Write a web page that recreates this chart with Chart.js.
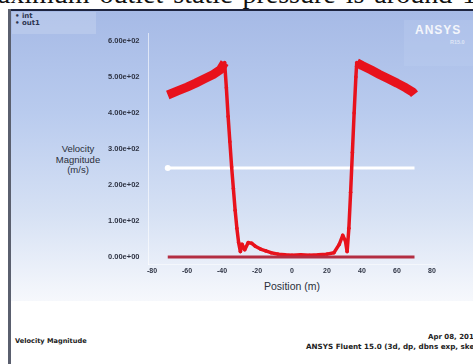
<!DOCTYPE html>
<html><head><meta charset="utf-8">
<script src="https://cdn.jsdelivr.net/npm/chart.js@4.4.1/dist/chart.umd.min.js"></script>
<style>
html,body{margin:0;padding:0;background:#fff;width:473px;height:364px;overflow:hidden;position:relative;font-family:"Liberation Sans",Arial,sans-serif;}
#cut{position:absolute;left:-24px;top:-20px;font-family:"Liberation Serif","Times New Roman",serif;font-size:28px;line-height:28px;white-space:nowrap;color:#111;word-spacing:3px;}
#topbar{position:absolute;left:8px;top:9px;width:465px;height:2px;background:#1d2440;}
#leftbar{position:absolute;left:8px;top:9px;width:3px;height:355px;background:#5a5f6e;}
#frame{position:absolute;left:11px;top:11px;width:462px;height:290px;background:linear-gradient(to bottom,#a6bae6 0%,#b9cbee 35%,#d6e1f4 70%,#eef2fa 92%,#f6f8fc 100%);}
#legend{position:absolute;left:12px;top:12px;width:84px;height:22px;background:rgba(200,212,240,0.45);}
.lg{position:absolute;left:15px;font-size:7px;line-height:7px;color:#2d3550;font-weight:bold;font-family:"DejaVu Sans",sans-serif;}
#logo{position:absolute;left:404px;top:20px;width:69px;height:46px;background:rgba(190,205,240,0.35);}
#ansys{position:absolute;left:415px;top:23px;font-size:12px;font-weight:bold;color:#f4f6fb;letter-spacing:1px;}
#rel{position:absolute;left:450px;top:39px;font-size:5.5px;color:#dfe6f6;font-weight:bold;}
#ytitle{position:absolute;left:48px;top:144px;width:60px;text-align:center;font-size:9.5px;line-height:10.5px;color:#2a2f3a;}
#xtitle{position:absolute;left:240px;top:280px;width:104px;text-align:center;font-size:10.5px;color:#2a2f3a;}
.ft{position:absolute;font-family:"DejaVu Sans",sans-serif;font-weight:bold;color:#222;white-space:nowrap;}
#foot1{left:15px;top:337px;font-size:6.6px;}
#foot2{left:428px;top:333px;font-size:7px;}
#foot3{left:306px;top:342px;font-size:7.2px;}
canvas{position:absolute;left:0;top:0;}
</style>
</head><body>
<div id="cut">maximum outlet static pressure is around 10</div>
<div id="frame"></div>
<div id="topbar"></div>
<div id="leftbar"></div>
<div id="legend"></div>
<div class="lg" style="top:13px">&#8226; int</div>
<div class="lg" style="top:20px">&#8226; out1</div>
<div id="logo"></div>
<div id="ansys">ANSYS</div>
<div id="rel">R15.0</div>
<div id="ytitle">Velocity<br>Magnitude<br>(m/s)</div>
<div id="xtitle">Position (m)</div>
<div id="foot1" class="ft">Velocity Magnitude</div>
<div id="foot2" class="ft">Apr 08, 2015</div>
<div id="foot3" class="ft">ANSYS Fluent 15.0 (3d, dp, dbns exp, ske)</div>
<canvas id="c" width="473" height="364"></canvas>
<script>
const xTicks = [-80,-60,-40,-20,0,20,40,60,80];
const yTicks = [0,100,200,300,400,500,600];

const leftPlateauX = [-71,-65,-60,-55,-50,-45,-41,-38.5];
const leftPlateauY = [450,462,472,483,495,507,520,540];

const middleX = [-38.5,-37.5,-36.5,-35.5,-34.5,-33.5,-32.5,-31.5,-30.5,-29.5,-28.5,-27,-25,-23,-21,-18,-15,-12,-8,-4,0,5,10,15,20,24,27,29,30.5,31.5,32.5,33.5,34.5,35.5,36.5,37];
const middleY = [540,470,390,320,250,190,130,80,40,15,35,20,40,38,30,22,17,12,8,6,5,6,5,6,8,12,35,60,45,15,80,180,290,400,500,540];

const rightPlateauX = [37,40,45,50,55,60,65,69,70];
const rightPlateauY = [540,532,520,507,495,483,470,458,452];

const zeroLineX = [-71,70];
const zeroLineY = [0,0];

const refLineX = [-71,70];
const refLineY = [247,247];

const pts = (xs, ys) => xs.map((x, i) => ({x: x, y: ys[i]}));
const RED = '#e8121c';

function fmtExp(v){
  const s = v.toExponential(2);
  const m = s.split('e');
  const sign = m[1][0];
  let d = m[1].slice(1);
  if (d.length < 2) d = '0' + d;
  return m[0] + 'e' + sign + d;
}

new Chart(document.getElementById('c'), {
  type: 'line',
  data: {
    datasets: [
      {data: pts(zeroLineX, zeroLineY), borderColor: '#b32e42', borderWidth: 3, pointRadius: 0, order: 0},
      {data: pts(refLineX, refLineY), borderColor: '#ffffff', borderWidth: 3, pointRadius: [3,0], pointBackgroundColor: '#ffffff', pointBorderWidth: 0, order: 3},
      {data: pts(leftPlateauX, leftPlateauY), borderColor: RED, borderWidth: 9, pointRadius: 0, borderCapStyle: 'butt', borderJoinStyle: 'round', order: 1},
      {data: pts(middleX, middleY), borderColor: RED, borderWidth: 3.5, pointRadius: 1.8, pointBackgroundColor: RED, pointBorderWidth: 0, borderJoinStyle: 'round', order: 1},
      {data: pts(rightPlateauX, rightPlateauY), borderColor: RED, borderWidth: 9, pointRadius: 0, borderCapStyle: 'butt', borderJoinStyle: 'round', order: 1}
    ]
  },
  options: {
    responsive: false,
    animation: false,
    events: [],
    layout: {padding: {left: 0, right: 37.5, top: 33.8, bottom: 0}},
    plugins: {legend: {display: false}, tooltip: {enabled: false}},
    scales: {
      x: {
        type: 'linear', min: -82, max: 82,
        afterBuildTicks: s => { s.ticks = xTicks.map(v => ({value: v})); },
        afterFit: s => { s.height = 99.8; },
        grid: {display: false, drawTicks: false},
        border: {display: true, color: 'rgba(255,255,255,0.5)', dash: [1,2]},
        ticks: {padding: 3, autoSkip: false, maxRotation: 0, color: '#2f3444', font: {size: 7, weight: 'bold', family: 'Liberation Sans'}, callback: v => String(v)}
      },
      y: {
        type: 'linear', min: -20, max: 620,
        afterBuildTicks: s => { s.ticks = yTicks.map(v => ({value: v})); },
        afterFit: s => { s.width = 148.5; },
        grid: {display: false, drawTicks: false},
        border: {display: true, color: 'rgba(255,255,255,0.6)', dash: [1,2]},
        ticks: {padding: 9, autoSkip: false, color: '#2f3444', font: {size: 7.5, weight: 'bold', family: 'Liberation Sans'}, callback: v => fmtExp(v)}
      }
    }
  }
});
</script>
</body></html>
